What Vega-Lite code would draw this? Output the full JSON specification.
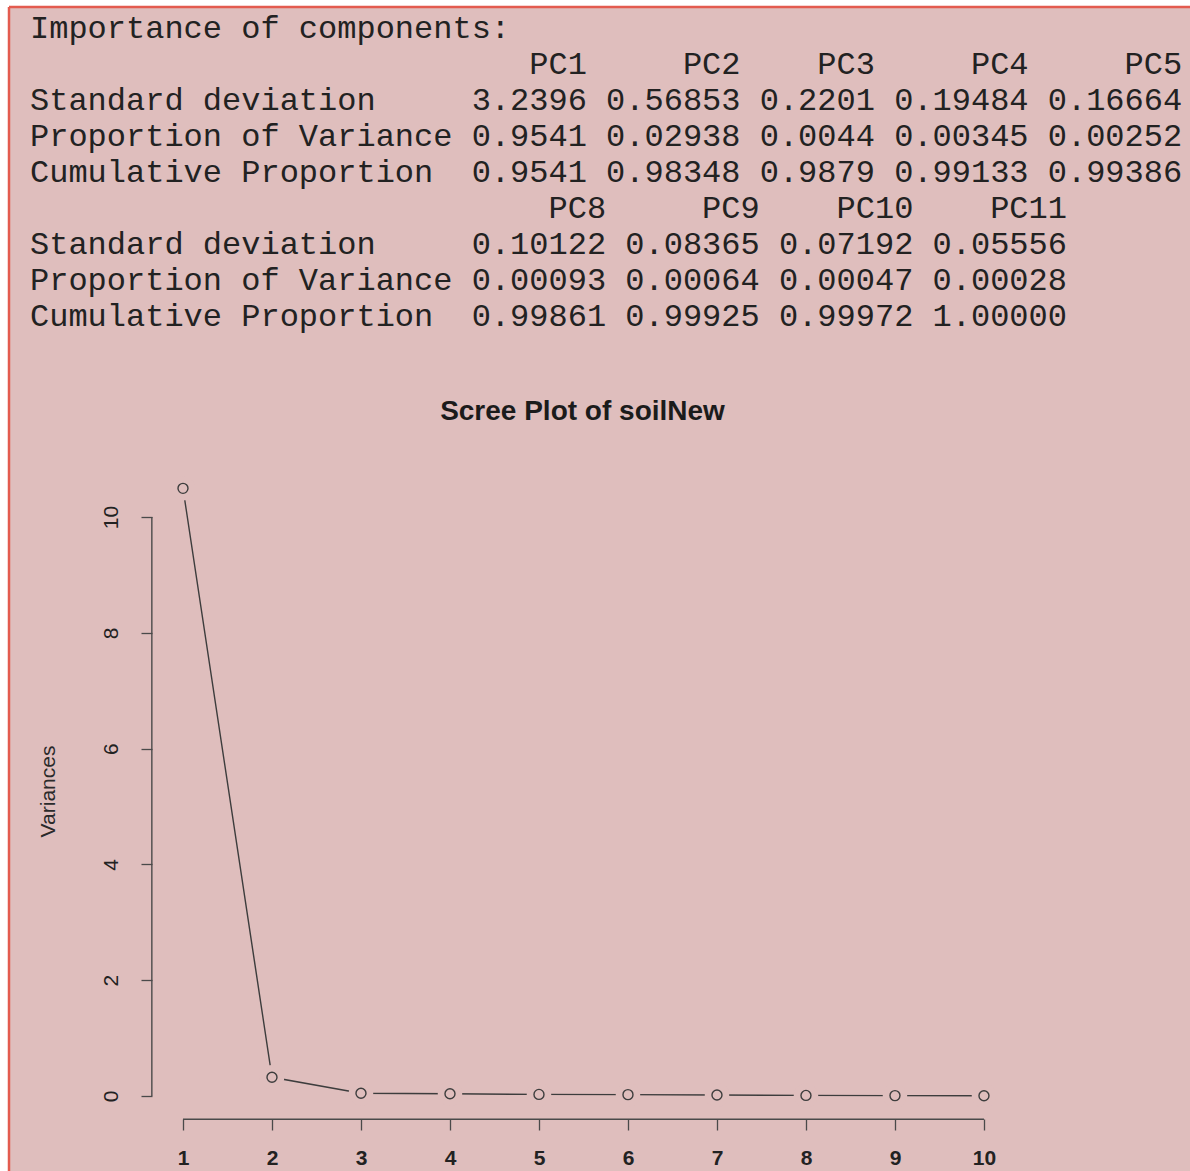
{
  "$schema": "https://vega.github.io/schema/vega-lite/v6.json",
  "width": 1181,
  "height": 1164,
  "autosize": {"type": "none"},
  "padding": {"left": 9, "top": 7, "right": 0, "bottom": 0},
  "background": "#ffffff",
  "config": {
    "view": {"fill": "#dfbebd", "stroke": null},
    "axis": {"grid": false}
  },
  "title": {
    "text": "Scree Plot of soilNew",
    "anchor": "middle",
    "frame": "group",
    "offset": 0,
    "dx": -17,
    "dy": 442,
    "baseline": "alphabetic",
    "font": "Liberation Sans",
    "fontSize": 28,
    "fontWeight": "bold",
    "color": "#1b1b1b"
  },
  "datasets": {
    "pcs": [
      {"pc": 1, "sd": 3.2396, "variance": 10.4950},
      {"pc": 2, "sd": 0.56853, "variance": 0.32323},
      {"pc": 3, "sd": 0.2201, "variance": 0.04844},
      {"pc": 4, "sd": 0.19484, "variance": 0.03796},
      {"pc": 5, "sd": 0.16664, "variance": 0.02777},
      {"pc": 6, "sd": 0.1538, "variance": 0.02365},
      {"pc": 7, "sd": 0.1355, "variance": 0.01836},
      {"pc": 8, "sd": 0.10122, "variance": 0.01025},
      {"pc": 9, "sd": 0.08365, "variance": 0.00700},
      {"pc": 10, "sd": 0.07192, "variance": 0.00517}
    ],
    "console": [
      {"line": 1, "text": "Importance of components:"},
      {"line": 2, "text": "\u200b\u00a0\u00a0\u00a0\u00a0\u00a0\u00a0\u00a0\u00a0\u00a0\u00a0\u00a0\u00a0\u00a0\u00a0\u00a0\u00a0\u00a0\u00a0\u00a0\u00a0\u00a0\u00a0\u00a0\u00a0\u00a0\u00a0PC1\u00a0\u00a0\u00a0\u00a0\u00a0PC2\u00a0\u00a0\u00a0\u00a0PC3\u00a0\u00a0\u00a0\u00a0\u00a0PC4\u00a0\u00a0\u00a0\u00a0\u00a0PC5"},
      {"line": 3, "text": "Standard deviation\u00a0\u00a0\u00a0\u00a0\u00a03.2396 0.56853 0.2201 0.19484 0.16664"},
      {"line": 4, "text": "Proportion of Variance 0.9541 0.02938 0.0044 0.00345 0.00252"},
      {"line": 5, "text": "Cumulative Proportion\u00a0\u00a00.9541 0.98348 0.9879 0.99133 0.99386"},
      {"line": 6, "text": "\u200b\u00a0\u00a0\u00a0\u00a0\u00a0\u00a0\u00a0\u00a0\u00a0\u00a0\u00a0\u00a0\u00a0\u00a0\u00a0\u00a0\u00a0\u00a0\u00a0\u00a0\u00a0\u00a0\u00a0\u00a0\u00a0\u00a0\u00a0PC8\u00a0\u00a0\u00a0\u00a0\u00a0PC9\u00a0\u00a0\u00a0\u00a0PC10\u00a0\u00a0\u00a0\u00a0PC11"},
      {"line": 7, "text": "Standard deviation\u00a0\u00a0\u00a0\u00a0\u00a00.10122 0.08365 0.07192 0.05556"},
      {"line": 8, "text": "Proportion of Variance 0.00093 0.00064 0.00047 0.00028"},
      {"line": 9, "text": "Cumulative Proportion\u00a0\u00a00.99861 0.99925 0.99972 1.00000"}
    ]
  },
  "layer": [
    {
      "data": {"name": "console"},
      "mark": {
        "type": "text",
        "align": "left",
        "baseline": "middle",
        "font": "Liberation Mono",
        "fontSize": 32,
        "color": "#222222"
      },
      "encoding": {
        "x": {"datum": 0, "type": "quantitative", "scale": {"domain": [-1.095, 60.5], "nice": false, "zero": false}, "axis": null},
        "y": {"field": "line", "type": "quantitative", "scale": {"domain": [0.4167, 32.75], "reverse": true, "nice": false, "zero": false}, "axis": null},
        "text": {"field": "text"}
      }
    },
    {
      "data": {"name": "pcs"},
      "mark": {"type": "line", "color": "#3d3d3d", "strokeWidth": 1.4},
      "encoding": {
        "x": {
          "field": "pc",
          "type": "quantitative",
          "scale": {"domain": [-0.955, 12.315], "nice": false, "zero": false},
          "axis": {
            "orient": "bottom",
            "offset": -52,
            "values": [1, 2, 3, 4, 5, 6, 7, 8, 9, 10],
            "domain": false,
            "ticks": true,
            "tickSize": 11,
            "tickWidth": 1.3,
            "tickColor": "#4a4a4a",
            "labelPadding": 17,
            "labelFont": "Liberation Sans",
            "labelFontSize": 21,
            "labelFontWeight": "bold",
            "labelColor": "#222222",
            "labelFlush": false,
            "labelOverlap": false,
            "title": null
          }
        },
        "y": {
          "field": "variance",
          "type": "quantitative",
          "scale": {"domain": [-1.295, 18.808], "nice": false, "zero": false},
          "axis": {
            "orient": "left",
            "offset": -143,
            "values": [0, 2, 4, 6, 8, 10],
            "domain": false,
            "ticks": true,
            "tickSize": 11,
            "tickWidth": 1.3,
            "tickColor": "#4a4a4a",
            "labelAngle": -90,
            "labelAlign": "center",
            "labelBaseline": "bottom",
            "labelPadding": 20,
            "labelFont": "Liberation Sans",
            "labelFontSize": 21,
            "labelColor": "#222222",
            "labelFlush": false,
            "labelOverlap": false,
            "title": "Variances",
            "titleFont": "Liberation Sans",
            "titleFontSize": 21,
            "titleFontWeight": "normal",
            "titleColor": "#2a2a2a",
            "titleAngle": -90,
            "titleAlign": "center",
            "titleBaseline": "middle",
            "titleX": -104,
            "titleY": 784
          }
        }
      }
    },
    {
      "data": {"name": "pcs"},
      "mark": {"type": "point", "shape": "circle", "filled": true, "fill": "#dfbebd", "strokeWidth": 0, "size": 600, "opacity": 1},
      "encoding": {
        "x": {"field": "pc", "type": "quantitative", "scale": {"domain": [-0.955, 12.315], "nice": false, "zero": false}, "axis": null},
        "y": {"field": "variance", "type": "quantitative", "scale": {"domain": [-1.295, 18.808], "nice": false, "zero": false}, "axis": null}
      }
    },
    {
      "data": {"name": "pcs"},
      "mark": {"type": "point", "shape": "circle", "filled": false, "stroke": "#3d3d3d", "strokeWidth": 1.4, "size": 100, "opacity": 1},
      "encoding": {
        "x": {"field": "pc", "type": "quantitative", "scale": {"domain": [-0.955, 12.315], "nice": false, "zero": false}, "axis": null},
        "y": {"field": "variance", "type": "quantitative", "scale": {"domain": [-1.295, 18.808], "nice": false, "zero": false}, "axis": null}
      }
    },
    {
      "data": {"name": "pcs"},
      "transform": [{"aggregate": [{"op": "count", "as": "n"}]}],
      "mark": {"type": "rule", "color": "#4a4a4a", "strokeWidth": 1.4},
      "encoding": {
        "x": {"datum": 0.65, "type": "quantitative", "scale": {"domain": [-0.955, 12.315], "nice": false, "zero": false}, "axis": null},
        "y": {"datum": 0, "type": "quantitative", "scale": {"domain": [-1.295, 18.808], "nice": false, "zero": false}, "axis": null},
        "y2": {"datum": 10}
      }
    },
    {
      "data": {"name": "pcs"},
      "transform": [{"aggregate": [{"op": "count", "as": "n"}]}],
      "mark": {"type": "rule", "color": "#4a4a4a", "strokeWidth": 1.4},
      "encoding": {
        "x": {"datum": 1, "type": "quantitative", "scale": {"domain": [-0.955, 12.315], "nice": false, "zero": false}, "axis": null},
        "x2": {"datum": 10},
        "y": {"datum": -0.4, "type": "quantitative", "scale": {"domain": [-1.295, 18.808], "nice": false, "zero": false}, "axis": null}
      }
    },
    {
      "data": {"name": "pcs"},
      "transform": [{"aggregate": [{"op": "count", "as": "n"}]}],
      "mark": {"type": "rule", "color": "#e35b4f", "strokeWidth": 2.5},
      "encoding": {
        "x": {"datum": -0.955, "type": "quantitative", "scale": {"domain": [-0.955, 12.315], "nice": false, "zero": false}, "axis": null}
      }
    },
    {
      "data": {"name": "pcs"},
      "transform": [{"aggregate": [{"op": "count", "as": "n"}]}],
      "mark": {"type": "rule", "color": "#e35b4f", "strokeWidth": 2.5},
      "encoding": {
        "y": {"datum": 18.808, "type": "quantitative", "scale": {"domain": [-1.295, 18.808], "nice": false, "zero": false}, "axis": null}
      }
    }
  ],
  "resolve": {"scale": {"x": "independent", "y": "independent"}}
}
